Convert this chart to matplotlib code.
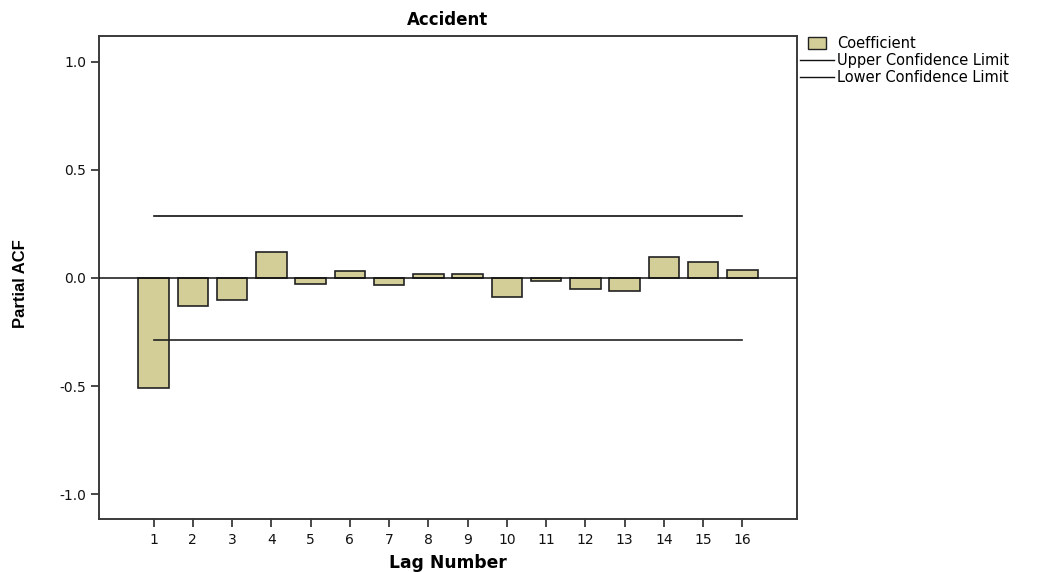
import matplotlib
matplotlib.use("Agg")
import matplotlib.pyplot as plt
from matplotlib.patches import Patch, Rectangle
from matplotlib.lines import Line2D
from matplotlib.legend_handler import HandlerPatch

# Partial autocorrelation of the Accident series
lags = list(range(1, 17))
pacf = [-0.507, -0.128, -0.100, 0.119, -0.029, 0.031, -0.034, 0.018,
        0.018, -0.088, -0.012, -0.051, -0.061, 0.096, 0.076, 0.037]
upper_limit = 0.286
lower_limit = -0.286
y_ticks = [-1.0, -0.5, 0.0, 0.5, 1.0]
y_tick_labels = ["-1.0", "-0.5", "0.0", "0.5", "1.0"]
legend_labels = ["Coefficient", "Upper Confidence Limit", "Lower Confidence Limit"]

bar_color = "#D3CE97"
edge_color = "#222222"
spine_color = "#3a3a3a"

plt.rcParams["font.family"] = ["DejaVu Sans"]

fig = plt.figure(figsize=(10.37, 5.72), dpi=100)
ax = fig.add_axes([0.0955, 0.0927, 0.673, 0.845])

ax.bar(lags, pacf, width=0.78, color=bar_color, edgecolor=edge_color,
       linewidth=1.2, zorder=2)
ax.axhline(0.0, color="#111111", linewidth=1.1, zorder=3)
ax.plot([lags[0], lags[-1]], [upper_limit, upper_limit], color="#111111",
        linewidth=1.2, zorder=3)
ax.plot([lags[0], lags[-1]], [lower_limit, lower_limit], color="#222222",
        linewidth=1.2, zorder=3)

ax.set_xlim(-0.39, 17.39)
ax.set_ylim(-1.114, 1.12)
ax.set_xticks(lags)
ax.set_xticklabels([str(l) for l in lags])
ax.set_yticks(y_ticks)
ax.set_yticklabels(y_tick_labels)

for sp in ax.spines.values():
    sp.set_color(spine_color)
    sp.set_linewidth(1.4)

ax.tick_params(axis="both", direction="out", length=5.8, width=1.3,
               color=spine_color, labelsize=10, labelcolor="#111111")
ax.tick_params(axis="x", pad=4)
ax.tick_params(axis="y", pad=3.5)

ax.set_title("Accident", fontsize=12, fontweight="bold", pad=8)
ax.set_xlabel("Lag Number", fontsize=12.3, fontweight="bold", va="top")
ax.xaxis.set_label_coords(0.5, -0.072)
ax.set_ylabel("Partial ACF", fontsize=12, fontweight="bold",
              family=["Liberation Sans", "DejaVu Sans"])
ax.yaxis.set_label_coords(-0.102, 0.486)


def small_box(legend, orig_handle, xdescent, ydescent, width, height, fontsize):
    w, h = 13.0, 8.6
    return Rectangle((-xdescent + (width - w) / 2, -ydescent + (height - h) / 2),
                     w, h)


handles = [
    Patch(facecolor=bar_color, edgecolor=edge_color, linewidth=1.0),
    Line2D([0], [0], color="#111111", linewidth=1.0),
    Line2D([0], [0], color="#111111", linewidth=1.0),
]
fig.legend(handles, legend_labels, loc="upper left",
           bbox_to_anchor=(800 / 1037, 1 - 36 / 572), frameon=False,
           fontsize=10.5, handlelength=2.3, handleheight=0.85,
           handletextpad=0.27, labelspacing=0.15, borderaxespad=0.0,
           borderpad=0.0,
           handler_map={Patch: HandlerPatch(patch_func=small_box)})

fig.savefig("out.png", dpi=100)
